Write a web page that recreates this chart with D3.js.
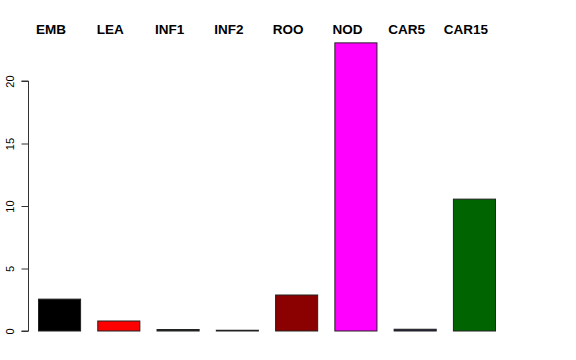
<!DOCTYPE html>
<html lang="en">
<head>
  <meta charset="UTF-8">
  <title>barplot</title>
  <script src="https://cdn.jsdelivr.net/npm/d3@7"></script>
  <style>
    body { margin: 0; background: #fff; }
    text { font-family: "Liberation Sans", Arial, Helvetica, sans-serif; }
  </style>
</head>
<body>
  <svg width="576" height="360"></svg>
  <script>
    var categories = ['EMB', 'LEA', 'INF1', 'INF2', 'ROO', 'NOD', 'CAR5', 'CAR15']
    var values = [2.55, 0.8, 0.12, 0.06, 2.88, 23.05, 0.14, 10.55]
    var colors = ['#000000', '#ff0000', '#1c2a1c', '#1a1a4a', '#8b0000', '#ff00ff', '#2a1f45', '#006400']
    var yTicks = [0, 5, 10, 15, 20]

    var svg = d3.select('svg')

    var x = d3.scaleBand()
      .domain(categories)
      .range([38, 495])
      .paddingInner(0.29)
      .paddingOuter(0)

    var y = d3.scaleLinear()
      .domain([0, 20])
      .range([331, 81])

    // bars
    svg.append('g')
      .selectAll('rect')
      .data(values)
      .enter()
      .append('rect')
      .attr('x', (d, i) => x(categories[i]) + 0.5)
      .attr('y', d => y(d))
      .attr('width', x.bandwidth())
      .attr('height', d => y(0) - y(d))
      .attr('fill', (d, i) => colors[i])
      .attr('stroke', '#222')
      .attr('stroke-width', 1)

    // y axis
    var yAxis = svg.append('g')
      .attr('transform', 'translate(28.5,0)')
      .call(d3.axisLeft(y).tickValues(yTicks).tickSize(7).tickFormat(d3.format('d')))
    yAxis.select('.domain').attr('stroke', '#333').attr('d', 'M-7,' + y(0) + 'H0V' + y(20) + 'H-7')
    yAxis.selectAll('.tick line').attr('stroke', '#333')
    yAxis.selectAll('.tick text')
      .attr('font-size', 11)
      .attr('font-family', '"Liberation Sans", Arial, sans-serif')
      .attr('fill', '#000')
      .attr('x', 0)
      .attr('dy', 0)
      .attr('text-anchor', 'middle')
      .attr('transform', 'translate(-15,0) rotate(-90)')

    // category labels on top
    svg.append('g')
      .selectAll('text')
      .data(categories)
      .enter()
      .append('text')
      .attr('x', d => x(d) + x.bandwidth() / 2 - 8)
      .attr('y', 34)
      .attr('text-anchor', 'middle')
      .attr('font-size', 13.5)
      .attr('font-weight', 'bold')
      .text(d => d)
  </script>
</body>
</html>
